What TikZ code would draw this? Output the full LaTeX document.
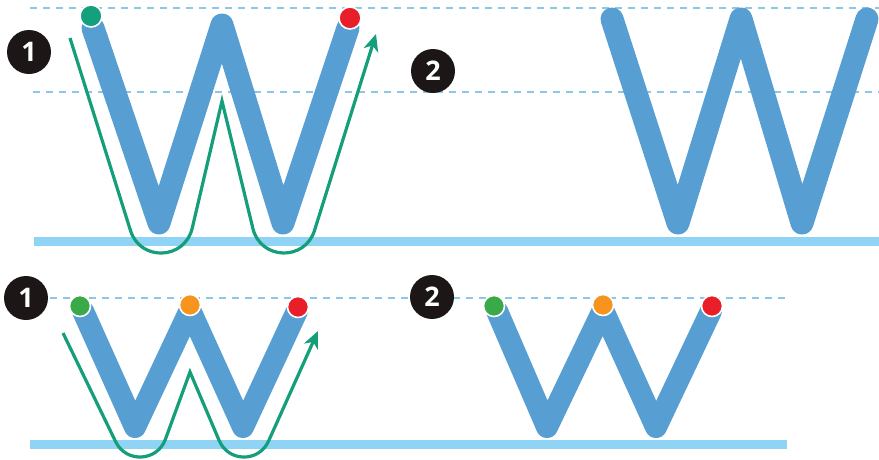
\documentclass[tikz,border=0pt]{standalone}
\usepackage{fontspec}
\setmainfont{Open Sans}
\usetikzlibrary{arrows.meta}
\definecolor{wblue}{RGB}{87,158,211}
\definecolor{basec}{RGB}{143,211,245}
\definecolor{guidec}{RGB}{140,200,230}
\definecolor{tracec}{RGB}{20,158,122}
\definecolor{tealdot}{RGB}{20,160,125}
\definecolor{greendot}{RGB}{58,170,72}
\definecolor{orangedot}{RGB}{247,148,30}
\definecolor{reddot}{RGB}{232,30,40}
\definecolor{badgec}{RGB}{28,22,22}
\begin{document}
\begin{tikzpicture}[x=1pt,y=-1pt,
  guide/.style={draw=guidec, line width=1.6pt, dash pattern=on 7pt off 6pt},
  baseline/.style={draw=basec, line width=9pt},
  letter/.style={draw=wblue, line width=23pt, line cap=round, line join=round},
  smallletter/.style={draw=wblue, line width=22pt, line cap=round, line join=round},
  trace/.style={draw=tracec, line width=3.2pt, line join=miter, miter limit=20,
    -{Stealth[length=17pt,width=15pt,inset=5pt]}},
  dot/.style={circle, draw=white, line width=1.6pt, minimum size=22pt, inner sep=0pt},
  sdot/.style={circle, draw=white, line width=1.6pt, minimum size=21pt, inner sep=0pt},
  badge/.style={circle, fill=badgec, minimum size=44pt, inner sep=0pt, text=white,
    font=\fontsize{27}{27}\selectfont\bfseries}]
\useasboundingbox (0,0) rectangle (879,459);
\clip (0,0) rectangle (879,459);

% ---------- top row ----------
\draw[guide] (30,8) -- (879,8);
\draw[guide] (33,92) -- (879,92);
\draw[baseline] (34,241) -- (879,241);

% top-left W
\coordinate (a1) at (93,28);
\coordinate (b1) at (159,223);
\coordinate (c1) at (222,25);
\coordinate (d1) at (283,223);
\coordinate (e1) at (348,28);
\draw[letter] (a1) -- (b1) -- (c1) -- (d1) -- (e1);
\node[dot, fill=tealdot] (g1) at (91,16) {};
\node[dot, fill=reddot] (r1) at (350,18) {};

% trace of top-left W
\coordinate (ts) at (70,38);
\coordinate (ta) at (222,101);
\coordinate (te) at (376,34);
\draw[trace] (ts) -- (130.5,230.6) .. controls (140.2,261.7) and (184.7,260.0) .. (192.2,228.3)
  -- (ta) -- (252.9,228.5) .. controls (260.5,260.1) and (304.9,261.5) .. (314.5,230.5) -- (te);

% top-right W
\coordinate (a2) at (612,19);
\coordinate (b2) at (678,223);
\coordinate (c2) at (741,19);
\coordinate (d2) at (802,223);
\coordinate (e2) at (867,19);
\draw[letter] (a2) -- (b2) -- (c2) -- (d2) -- (e2);

\node[badge] (n1) at (29,52) {1};
\node[badge] (n2) at (433,71) {2};

% ---------- bottom row ----------
\draw[guide] (50,298) -- (788,298);
\draw[baseline] (30,444) -- (787,444);

% bottom-left w
\coordinate (a3) at (83,311);
\coordinate (b3) at (135,427);
\coordinate (c3) at (190,310);
\coordinate (d3) at (243,427);
\coordinate (e3) at (297,311);
\draw[smallletter] (a3) -- (b3) -- (c3) -- (d3) -- (e3);
\node[sdot, fill=greendot] (g3) at (80,306) {};
\node[sdot, fill=orangedot] (o3) at (190,305) {};
\node[sdot, fill=reddot] (r3) at (298,307) {};

% trace of bottom-left w
\coordinate (us) at (63,333);
\coordinate (ua) at (190,372);
\coordinate (ue) at (318,331);
\draw[trace] (us) -- (115.7,441.8) .. controls (126.1,463.2) and (157.2,461.7) .. (165.4,439.3)
  -- (ua) -- (219.2,440.6) .. controls (228.4,462.3) and (259.0,462.6) .. (268.6,441.0) -- (ue);

% bottom-right w
\coordinate (a4) at (497,311);
\coordinate (b4) at (547,427);
\coordinate (c4) at (603,310);
\coordinate (d4) at (656,427);
\coordinate (e4) at (711,311);
\draw[smallletter] (a4) -- (b4) -- (c4) -- (d4) -- (e4);
\node[sdot, fill=greendot] (g4) at (494,306) {};
\node[sdot, fill=orangedot] (o4) at (603,305) {};
\node[sdot, fill=reddot] (r4) at (712,306) {};

\node[badge] (n3) at (26,298) {1};
\node[badge] (n4) at (432,297) {2};
\end{tikzpicture}
\end{document}
